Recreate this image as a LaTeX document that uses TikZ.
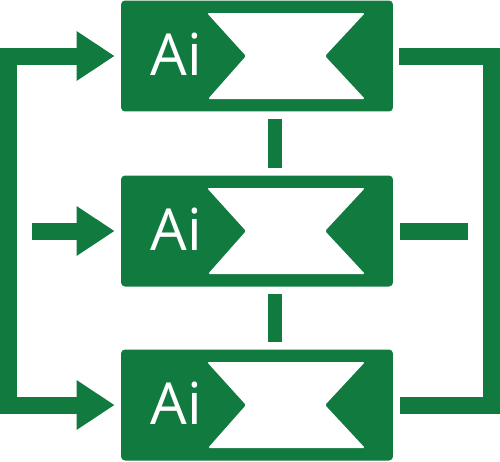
\documentclass[tikz,border=0pt]{standalone}
\usepackage{fontspec}
\setsansfont{Open Sans}
\usetikzlibrary{positioning,arrows.meta}
\definecolor{boxGreen}{HTML}{107A3F}
\tikzstyle{diagram} = [x=0.02cm, y=-0.02cm]
\tikzstyle{aiBoxStyle} = [fill=boxGreen, rounded corners=0.08cm, minimum width=5.44cm, minimum height=2.22cm, inner sep=0pt]
\tikzstyle{notchStyle} = [fill=white, rounded corners=0.03cm]
\tikzstyle{aiText} = [text=white, anchor=base, inner sep=0pt, font=\sffamily\fontsize{33}{40}\selectfont]
\tikzstyle{feedLine} = [draw=boxGreen, line width=0.34cm]
\tikzstyle{feedArrow} = [feedLine, -{Triangle[length=0.76cm, width=0.94cm]}, shorten >=0.12cm]
\tikzstyle{linkLine} = [draw=boxGreen, line width=0.28cm, shorten <=0.14cm, shorten >=0.14cm]
\newcommand{\aiBox}[2]{
  \node [aiBoxStyle] (#1) at (257,#2) {};
  \begin{scope}[shift={(#1)}]
    \fill [notchStyle] (-50,-43) -- (108,-43) -- (68,0) -- (108,43) -- (-49,43) -- (-11,0) -- cycle;
    \node [aiText] (#1-label) at (-81,19) {Ai};
  \end{scope}
}

\begin{document}
\begin{tikzpicture}[diagram]
    \useasboundingbox (0,0) rectangle (500,461);
    \foreach \name/\ypos in {top/56,mid/231,bot/405} {
      \aiBox{\name}{\ypos}
    }
    \coordinate (leftRail) at (8.5,231);
    \coordinate (rightRail) at (491,231);
    \coordinate (midIn) at (32,231);
    \coordinate (midStub) at (468,231);
    % feedback on the left
    \draw [feedLine, {Triangle[length=0.76cm, width=0.94cm]}-{Triangle[length=0.76cm, width=0.94cm]}, shorten <=0.12cm, shorten >=0.12cm] (top.west) -| (leftRail) |- (bot.west);
    \draw [feedArrow] (midIn) -- (mid.west);
    % feedback on the right
    \draw [feedLine, shorten <=0.12cm, shorten >=0.14cm] (top.east) -| (rightRail) |- (bot.east);
    \draw [feedLine, shorten <=0.14cm] (mid.east) -- (midStub);
    % links between the boxes
    \draw [linkLine] ([xshift=0.36cm]top.south) -- ([xshift=0.36cm]mid.north);
    \draw [linkLine] ([xshift=0.36cm]mid.south) -- ([xshift=0.36cm]bot.north);
\end{tikzpicture}
\end{document}
